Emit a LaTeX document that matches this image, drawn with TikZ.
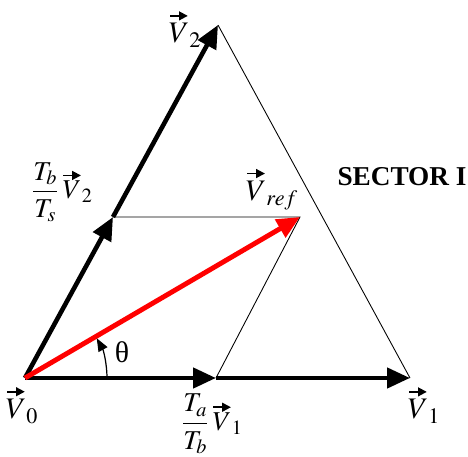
\documentclass[tikz,border=0pt]{standalone}
\usepackage{amsmath}
\usepackage{mathptmx}
\usepackage{fontspec}
\setmainfont{Liberation Serif}
\usetikzlibrary{arrows.meta}
% vector accent with a filled head
\newcommand{\vv}[1]{\overset{\raisebox{-2.5pt}[3pt][0pt]{\tikz\draw[line width=1pt,-{Triangle[length=5pt,width=5pt]}] (0,0) -- (10pt,0);}}{#1}}
\tikzset{
  vecline/.style={line width=2.6pt, -{Triangle[length=0.46cm,width=0.4cm]}},
  thinline/.style={line width=0.5pt},
  lbl/.style={font=\fontsize{17}{20}\selectfont, inner sep=0pt},
  frac/.style={font=\fontsize{15.5}{18}\selectfont, inner sep=0pt}
}
\begin{document}
\begin{tikzpicture}[x=0.02cm, y=-0.02cm]
  \useasboundingbox (0,0) rectangle (468,457);
  % Corner points of sector I
  \coordinate (O)  at (25,378);
  \coordinate (V1) at (410,378);
  \coordinate (V2) at (218,25);
  \coordinate (A)  at (216,378);
  \coordinate (B)  at (113,217);
  \coordinate (R)  at (300,217);
  % Thin construction lines
  \draw[thinline] (V2) -- (V1);
  \draw[thinline] (B) -- (R) -- (A);
  % Active vectors
  \draw[vecline] (O) -- (A);
  \draw[vecline] (A) -- (V1);
  \draw[vecline] (O) -- (B);
  \draw[vecline] (B) -- (V2);
  % Reference vector
  \draw[red, line width=2.8pt, -{Triangle[length=0.46cm,width=0.4cm]}] (O) -- (R);
  % Angle
  \draw[line width=0.7pt, -{Triangle[length=0.26cm,width=0.2cm]}] ([shift={(82,0)}]O) arc[start angle=0, end angle=-29, radius=82];
  \node[lbl] (th) at (122,352) {θ};
  % Labels
  \node[lbl] (lv0) at (22,404) {$\vv{V}_0$};
  \node[lbl] (lv1) at (424,404) {$\vv{V}_1$};
  \node[lbl] (lv2) at (185,28) {$\vv{V}_2$};
  \node[lbl] (lref) at (272,188) {$\vv{V}_{ref}$};
  \node[frac] (la) at (212,424) {$\dfrac{T_a}{T_b}\,\vv{V}_1$};
  \node[frac] (lb) at (62,192) {$\dfrac{T_b}{T_s}\,\vv{V}_2$};
  \node[font=\fontsize{15.5}{18}\selectfont\bfseries, inner sep=0pt] (sec) at (402,177) {SECTOR I};
\end{tikzpicture}
\end{document}
